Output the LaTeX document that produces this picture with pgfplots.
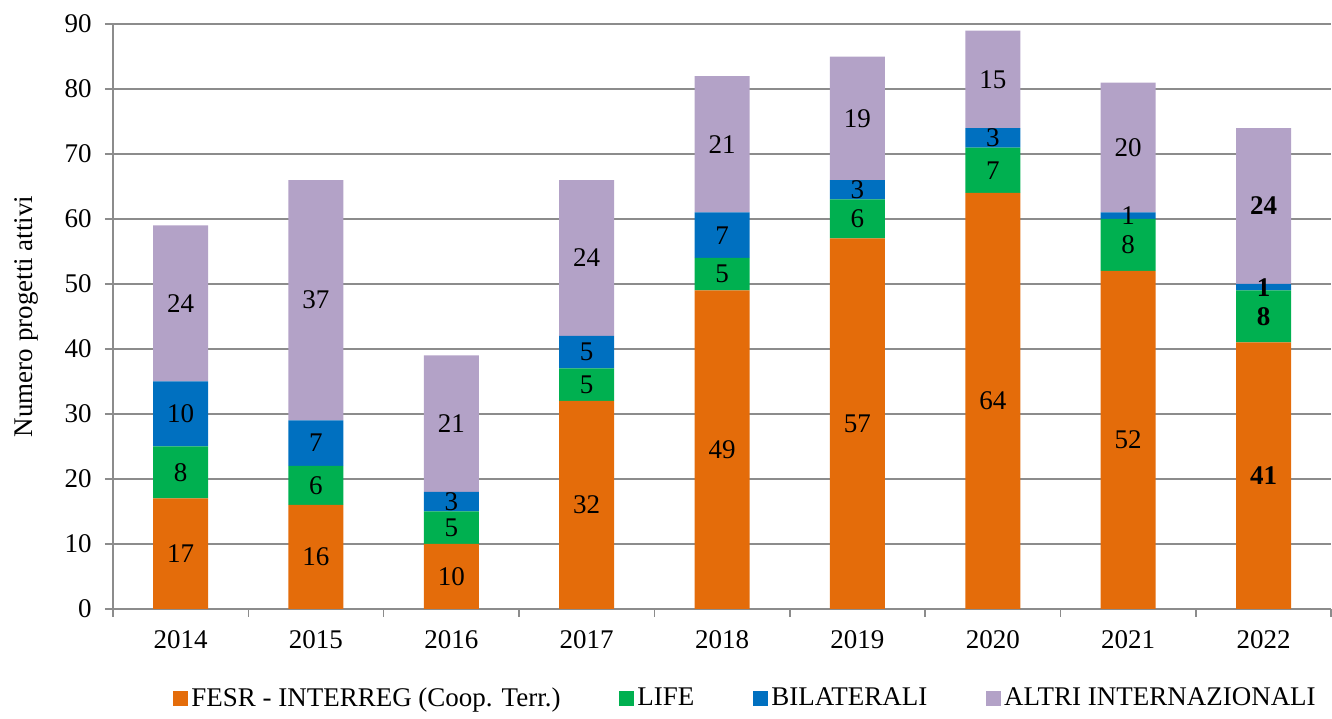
\documentclass[border=0pt]{standalone}
\usepackage{fontspec}
\setmainfont{Liberation Serif}
\usepackage{pgfplots}
\pgfplotsset{compat=1.18}

\definecolor{fesr}{HTML}{E46C0A}
\definecolor{life}{HTML}{00B050}
\definecolor{bilat}{HTML}{0070C0}
\definecolor{altri}{HTML}{B3A2C7}
\definecolor{gridgray}{HTML}{8C8C8C}

\pgfplotsset{
  base/.style={
    width=609.5pt, height=292.5pt, scale only axis,
    xmin=-0.5, xmax=8.5, ymin=0, ymax=90,
  },
  sqlegend/.style={legend image code/.code={\draw[##1,draw=none] (0pt,-3.75pt) rectangle (7.5pt,3.75pt);}},
}

\begin{document}
\fontsize{13.5}{16}\selectfont
\begin{tikzpicture}
\begin{axis}[base,
  ybar stacked, bar width=27.5pt,
  axis lines*=left,
  axis line style={gridgray, line width=0.8pt},
  ytick={0,10,...,90},
  ymajorgrids, grid style={gridgray, line width=0.8pt},
  xtick={0,...,8},
  xticklabels={2014,2015,2016,2017,2018,2019,2020,2021,2022},
  minor xtick={-0.5,0.5,...,8.5},
  tick align=outside, tick pos=left,
  major tick length=4pt, minor tick length=4pt,
  major x tick style={draw=none},
  tick style={gridgray, line width=0.8pt},
  /pgf/number format/assume math mode=true,
  tick label style={font=\rmfamily},
  yticklabel style={xshift=-2pt},
  xticklabel style={yshift=-2pt},
  ylabel={Numero progetti attivi},
  every axis y label/.style={at={(axis description cs:-0.071,0.5)}, rotate=90, anchor=center, inner sep=0pt},
  legend columns=4,
  legend style={draw=none, at={(axis description cs:0.5,0)}, anchor=center,
    yshift=-45pt, xshift=12pt, nodes={inner xsep=1.5pt},
    /tikz/every even column/.append style={column sep=28pt}},
]
% FESR - INTERREG
\addplot[fill=fesr, draw=none, sqlegend] coordinates {
  (0,17) (1,16) (2,10) (3,32) (4,49) (5,57) (6,64) (7,52) (8,41)};
% LIFE
\addplot[fill=life, draw=none, sqlegend] coordinates {
  (0,8) (1,6) (2,5) (3,5) (4,5) (5,6) (6,7) (7,8) (8,8)};
% BILATERALI
\addplot[fill=bilat, draw=none, sqlegend] coordinates {
  (0,10) (1,7) (2,3) (3,5) (4,7) (5,3) (6,3) (7,1) (8,1)};
% ALTRI INTERNAZIONALI
\addplot[fill=altri, draw=none, sqlegend] coordinates {
  (0,24) (1,37) (2,21) (3,24) (4,21) (5,19) (6,15) (7,20) (8,24)};
\legend{FESR - INTERREG (Coop. Terr.), LIFE, BILATERALI, ALTRI INTERNAZIONALI}
\end{axis}

% segment labels, centred in each segment
\begin{axis}[base, hide axis,
  nodes near coords, point meta=explicit symbolic,
  every node near coord/.append style={anchor=center, black, inner sep=0pt},
]
\addplot[draw=none, mark=none] coordinates {
  (0,8.5)[17] (0,21)[8] (0,30)[10] (0,47)[24]
  (1,8)[16] (1,19)[6] (1,25.5)[7] (1,47.5)[37]
  (2,5)[10] (2,12.5)[5] (2,16.5)[3] (2,28.5)[21]
  (3,16)[32] (3,34.5)[5] (3,39.5)[5] (3,54)[24]
  (4,24.5)[49] (4,51.5)[5] (4,57.5)[7] (4,71.5)[21]
  (5,28.5)[57] (5,60)[6] (5,64.5)[3] (5,75.5)[19]
  (6,32)[64] (6,67.5)[7] (6,72.5)[3] (6,81.5)[15]
  (7,26)[52] (7,56)[8] (7,60.5)[1] (7,71)[20]
  (8,20.5)[\textbf{41}] (8,45)[\textbf{8}] (8,49.5)[\textbf{1}] (8,62)[\textbf{24}]
};
\end{axis}
% room round the picture as in the reference
\path ([yshift=3pt]current bounding box.north);
\path (current axis.south west) ++(-56.5pt,0pt);
\end{tikzpicture}
\end{document}
